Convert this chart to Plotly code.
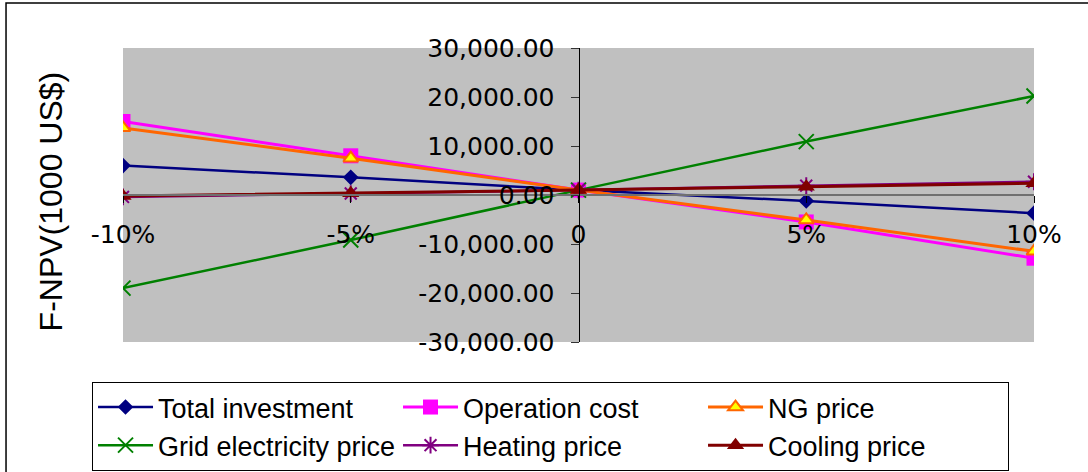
import plotly.graph_objects as go

# Sensitivity of F-NPV to a +/- change in each input parameter
change_pct = [-10, -5, 0, 5, 10]
change_labels = ["-10%", "-5%", "0", "5%", "10%"]

total_investment = [6000, 3600, 1000, -1200, -3700]
operation_cost = [15000, 8000, 1000, -5500, -12900]
ng_price = [13700, 7500, 1000, -5100, -11500]
grid_electricity_price = [-19000, -9200, 1000, 10900, 20200]
heating_price = [-400, 300, 1000, 1900, 2700]
cooling_price = [-200, 350, 1000, 1700, 2400]

y_tick_values = [-30000, -20000, -10000, 0, 10000, 20000, 30000]
y_tick_labels = ["-30,000.00", "-20,000.00", "-10,000.00", "0.00",
                 "10,000.00", "20,000.00", "30,000.00"]

series = [
    ("Total investment", total_investment,
     dict(symbol="diamond", size=12, color="#000080"), "#000080", 2.5),
    ("Operation cost", operation_cost,
     dict(symbol="square", size=15, color="#FF00FF"), "#FF00FF", 3),
    ("NG price", ng_price,
     dict(symbol="triangle-up", size=13, color="#FFFF00",
          line=dict(color="#FF6600", width=2)), "#FF6600", 3),
    ("Grid electricity price", grid_electricity_price,
     dict(symbol="x-thin-open", size=15, color="#008000",
          line=dict(color="#008000", width=2)), "#008000", 2.5),
    ("Heating price", heating_price,
     dict(symbol="asterisk-open", size=14, color="#800080",
          line=dict(color="#800080", width=2)), "#800080", 2.5),
    ("Cooling price", cooling_price,
     dict(symbol="triangle-up", size=15, color="#800000"), "#800000", 3),
]

fig = go.Figure()
for name, values, marker, line_color, line_width in series:
    fig.add_trace(go.Scatter(
        x=change_pct, y=values, name=name, mode="lines+markers",
        line=dict(color=line_color, width=line_width),
        marker=marker,
    ))

tick_font = dict(family="DejaVu Sans", size=25, color="#000000")

fig.update_layout(
    width=1088, height=472,
    margin=dict(l=123, r=54, t=48, b=130, autoexpand=False),
    paper_bgcolor="#FFFFFF",
    plot_bgcolor="#C0C0C0",
    showlegend=True,
    xaxis=dict(
        range=[-10, 10], tickmode="array",
        tickvals=change_pct, ticktext=change_labels,
        anchor="free", position=0.5,
        showline=True, linecolor="#707070", linewidth=1.5,
        showgrid=False, zeroline=False,
        ticks="outside", ticklen=7, tickcolor="#000000", tickwidth=1,
        tickfont=tick_font, ticklabelstandoff=10,
    ),
    xaxis2=dict(
        range=[-10, 10], tickmode="array", tickvals=change_pct,
        overlaying="x", anchor="free", position=0.5, side="top",
        showline=False, showgrid=False, zeroline=False,
        ticks="outside", ticklen=7, tickcolor="#000000", tickwidth=1,
        showticklabels=False,
    ),
    yaxis=dict(
        range=[-30000, 30000], tickmode="array",
        tickvals=y_tick_values, ticktext=y_tick_labels,
        anchor="free", position=0.5,
        showline=True, linecolor="#000000", linewidth=1,
        showgrid=False, zeroline=False,
        ticks="outside", ticklen=8, tickcolor="#333333", tickwidth=1,
        tickfont=tick_font, ticklabelstandoff=11,
    ),
    yaxis2=dict(
        range=[-30000, 30000], tickmode="array", tickvals=y_tick_values,
        overlaying="y", anchor="free", position=0.5, side="right",
        showline=False, showgrid=False, zeroline=False,
        ticks="outside", ticklen=9, tickcolor="#333333", tickwidth=1,
        showticklabels=False,
    ),
    legend=dict(
        orientation="h", x=-0.034, xanchor="left", y=-0.136, yanchor="top",
        font=dict(family="Liberation Sans", size=27, color="#000000"),
        bordercolor="#000000", borderwidth=1, bgcolor="#FFFFFF",
        itemwidth=55, entrywidth=235, traceorder="normal",
    ),
    annotations=[dict(
        text="F-NPV(1000 US$)", textangle=-90,
        xref="paper", yref="paper", x=-0.078, y=0.478,
        xanchor="center", yanchor="middle", showarrow=False,
        font=dict(family="Liberation Sans", size=32, color="#000000"),
    )],
    shapes=[dict(
        type="rect", xref="paper", yref="paper",
        x0=-0.1284, x1=1.3, y0=-1.0, y1=1.153,
        line=dict(color="#000000", width=1.5), fillcolor="rgba(0,0,0,0)",
        layer="above",
    )],
)

fig.write_html("out.html")
